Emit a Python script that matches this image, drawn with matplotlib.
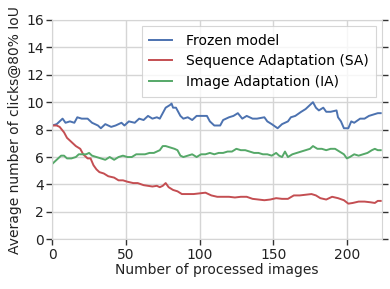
import numpy as np
import matplotlib
matplotlib.use("Agg")
import matplotlib.pyplot as plt

# values
frozen_x = [0, 3, 7, 9, 12, 15, 17, 20, 24, 27, 31, 33, 36, 40, 43, 47, 49, 52, 56, 59,
            62, 65, 68, 71, 73, 75, 77, 80, 81, 82, 84, 87, 89, 92, 95, 98, 101, 105, 107, 110,
            114, 116, 120, 123, 126, 129, 132, 136, 139, 144, 146, 149, 153, 156, 160, 162, 165, 169, 172, 176,
            177, 179, 181, 184, 186, 189, 193, 194, 196, 198, 201, 203, 205, 209, 212, 215, 218, 221, 223]
frozen_y = [8.3, 8.4, 8.8, 8.5, 8.6, 8.5, 8.9, 8.8, 8.8, 8.5, 8.3, 8.1, 8.4, 8.2, 8.3, 8.5, 8.3, 8.6, 8.5, 8.8,
            8.7, 9.0, 8.8, 8.9, 8.8, 9.2, 9.6, 9.8, 9.9, 9.6, 9.6, 9.0, 8.8, 8.9, 8.7, 9.0, 9.0, 9.0, 8.6, 8.3,
            8.3, 8.7, 8.9, 9.0, 9.2, 8.8, 9.0, 8.8, 8.8, 8.9, 8.6, 8.4, 8.1, 8.4, 8.6, 8.9, 9.0, 9.3, 9.5, 9.9,
            10.0, 9.6, 9.4, 9.6, 9.3, 9.3, 9.4, 8.9, 8.6, 8.1, 8.1, 8.6, 8.5, 8.8, 8.8, 9.0, 9.1, 9.2, 9.2]

sa_x = [0, 3, 5, 8, 10, 13, 16, 19, 21, 24, 26, 28, 30, 32, 35, 38, 42, 45, 48, 51,
        55, 58, 62, 65, 68, 71, 73, 75, 77, 79, 82, 85, 88, 92, 96, 100, 104, 108, 112, 116,
        120, 124, 128, 132, 136, 140, 144, 148, 152, 156, 160, 164, 168, 172, 176, 179, 182, 186, 190, 194,
        198, 201, 204, 208, 212, 216, 219, 221, 223]
sa_y = [8.3, 8.3, 8.2, 7.8, 7.4, 7.1, 6.8, 6.6, 6.2, 5.9, 5.9, 5.4, 5.1, 4.9, 4.8, 4.6, 4.5, 4.3, 4.3, 4.2,
        4.1, 4.1, 3.95, 3.9, 3.85, 3.9, 3.8, 3.9, 4.1, 3.8, 3.6, 3.5, 3.3, 3.3, 3.3, 3.35, 3.4, 3.2, 3.1, 3.1,
        3.1, 3.05, 3.1, 3.1, 2.95, 2.9, 2.85, 2.9, 3.0, 2.95, 2.95, 3.2, 3.2, 3.25, 3.3, 3.2, 3.0, 2.9, 3.1, 3.0,
        2.85, 2.6, 2.65, 2.75, 2.75, 2.7, 2.65, 2.8, 2.8]

ia_x = [0, 2, 4, 6, 8, 10, 13, 16, 18, 20, 23, 25, 27, 30, 33, 36, 39, 42, 45, 48,
        51, 54, 57, 60, 63, 66, 69, 71, 73, 75, 77, 80, 83, 85, 87, 89, 92, 95, 98, 101,
        104, 107, 110, 113, 116, 119, 122, 125, 128, 131, 134, 137, 140, 143, 146, 149, 152, 154, 156, 158,
        160, 163, 166, 169, 172, 175, 177, 180, 183, 186, 189, 192, 195, 198, 200, 202, 205, 208, 211, 214,
        217, 219, 221, 223]
ia_y = [5.5, 5.7, 5.9, 6.1, 6.1, 5.9, 5.9, 6.0, 6.2, 6.2, 6.2, 6.3, 6.1, 6.0, 5.9, 5.8, 6.0, 5.8, 6.0, 6.1,
        6.0, 6.0, 6.2, 6.2, 6.2, 6.3, 6.3, 6.4, 6.5, 6.8, 6.8, 6.7, 6.6, 6.5, 6.1, 6.0, 6.1, 6.2, 6.0, 6.2,
        6.2, 6.3, 6.2, 6.3, 6.3, 6.4, 6.4, 6.6, 6.5, 6.5, 6.4, 6.3, 6.3, 6.2, 6.2, 6.1, 6.3, 6.1, 6.0, 6.4,
        6.0, 6.2, 6.3, 6.4, 6.5, 6.6, 6.8, 6.6, 6.6, 6.5, 6.6, 6.6, 6.4, 6.2, 5.9, 6.0, 6.2, 6.1, 6.2, 6.3,
        6.5, 6.6, 6.5, 6.5]

labels = ['Frozen model', 'Sequence Adaptation (SA)', 'Image Adaptation (IA)']
colors = ['#4C72B0', '#C44E52', '#55A868']

plt.rcParams['font.family'] = ['DejaVu Sans']
plt.rcParams['font.size'] = 10

fig = plt.figure(figsize=(3.9, 2.89), dpi=100)
ax = fig.add_axes([0.134, 0.172, 0.846, 0.759])

for xs, ys, lab, c in zip([frozen_x, sa_x, ia_x], [frozen_y, sa_y, ia_y], labels, colors):
    ax.plot(xs, ys, color=c, lw=1.4, label=lab)

ax.set_xlim(0, 224)
ax.set_ylim(0, 16)
ax.set_xticks([0, 50, 100, 150, 200])
ax.set_yticks(np.arange(0, 17, 2))
ax.grid(True, color='#d5d5d5', lw=1.0)
ax.set_axisbelow(True)
for s in ax.spines.values():
    s.set_color('#d5d5d5')
ax.tick_params(axis='both', direction='out', length=4, width=1, color='#333333',
               labelcolor='#222222', labelsize=10, pad=2)
ax.tick_params(axis='y', right=True)
ax.set_xlabel('Number of processed images', fontsize=10, color='#222222', labelpad=1)
ax.set_ylabel('Average number of clicks@80% IoU', fontsize=10, color='#222222', labelpad=3)

leg = ax.legend(loc='upper right', bbox_to_anchor=(1.0, 1.0), fontsize=10, frameon=True,
                fancybox=False, handlelength=1.6, handletextpad=1.0, borderpad=0.55,
                labelspacing=0.47, borderaxespad=0.45)
leg.get_frame().set_edgecolor('#cccccc')
leg.get_frame().set_linewidth(0.8)

fig.savefig('out.png', dpi=100)
